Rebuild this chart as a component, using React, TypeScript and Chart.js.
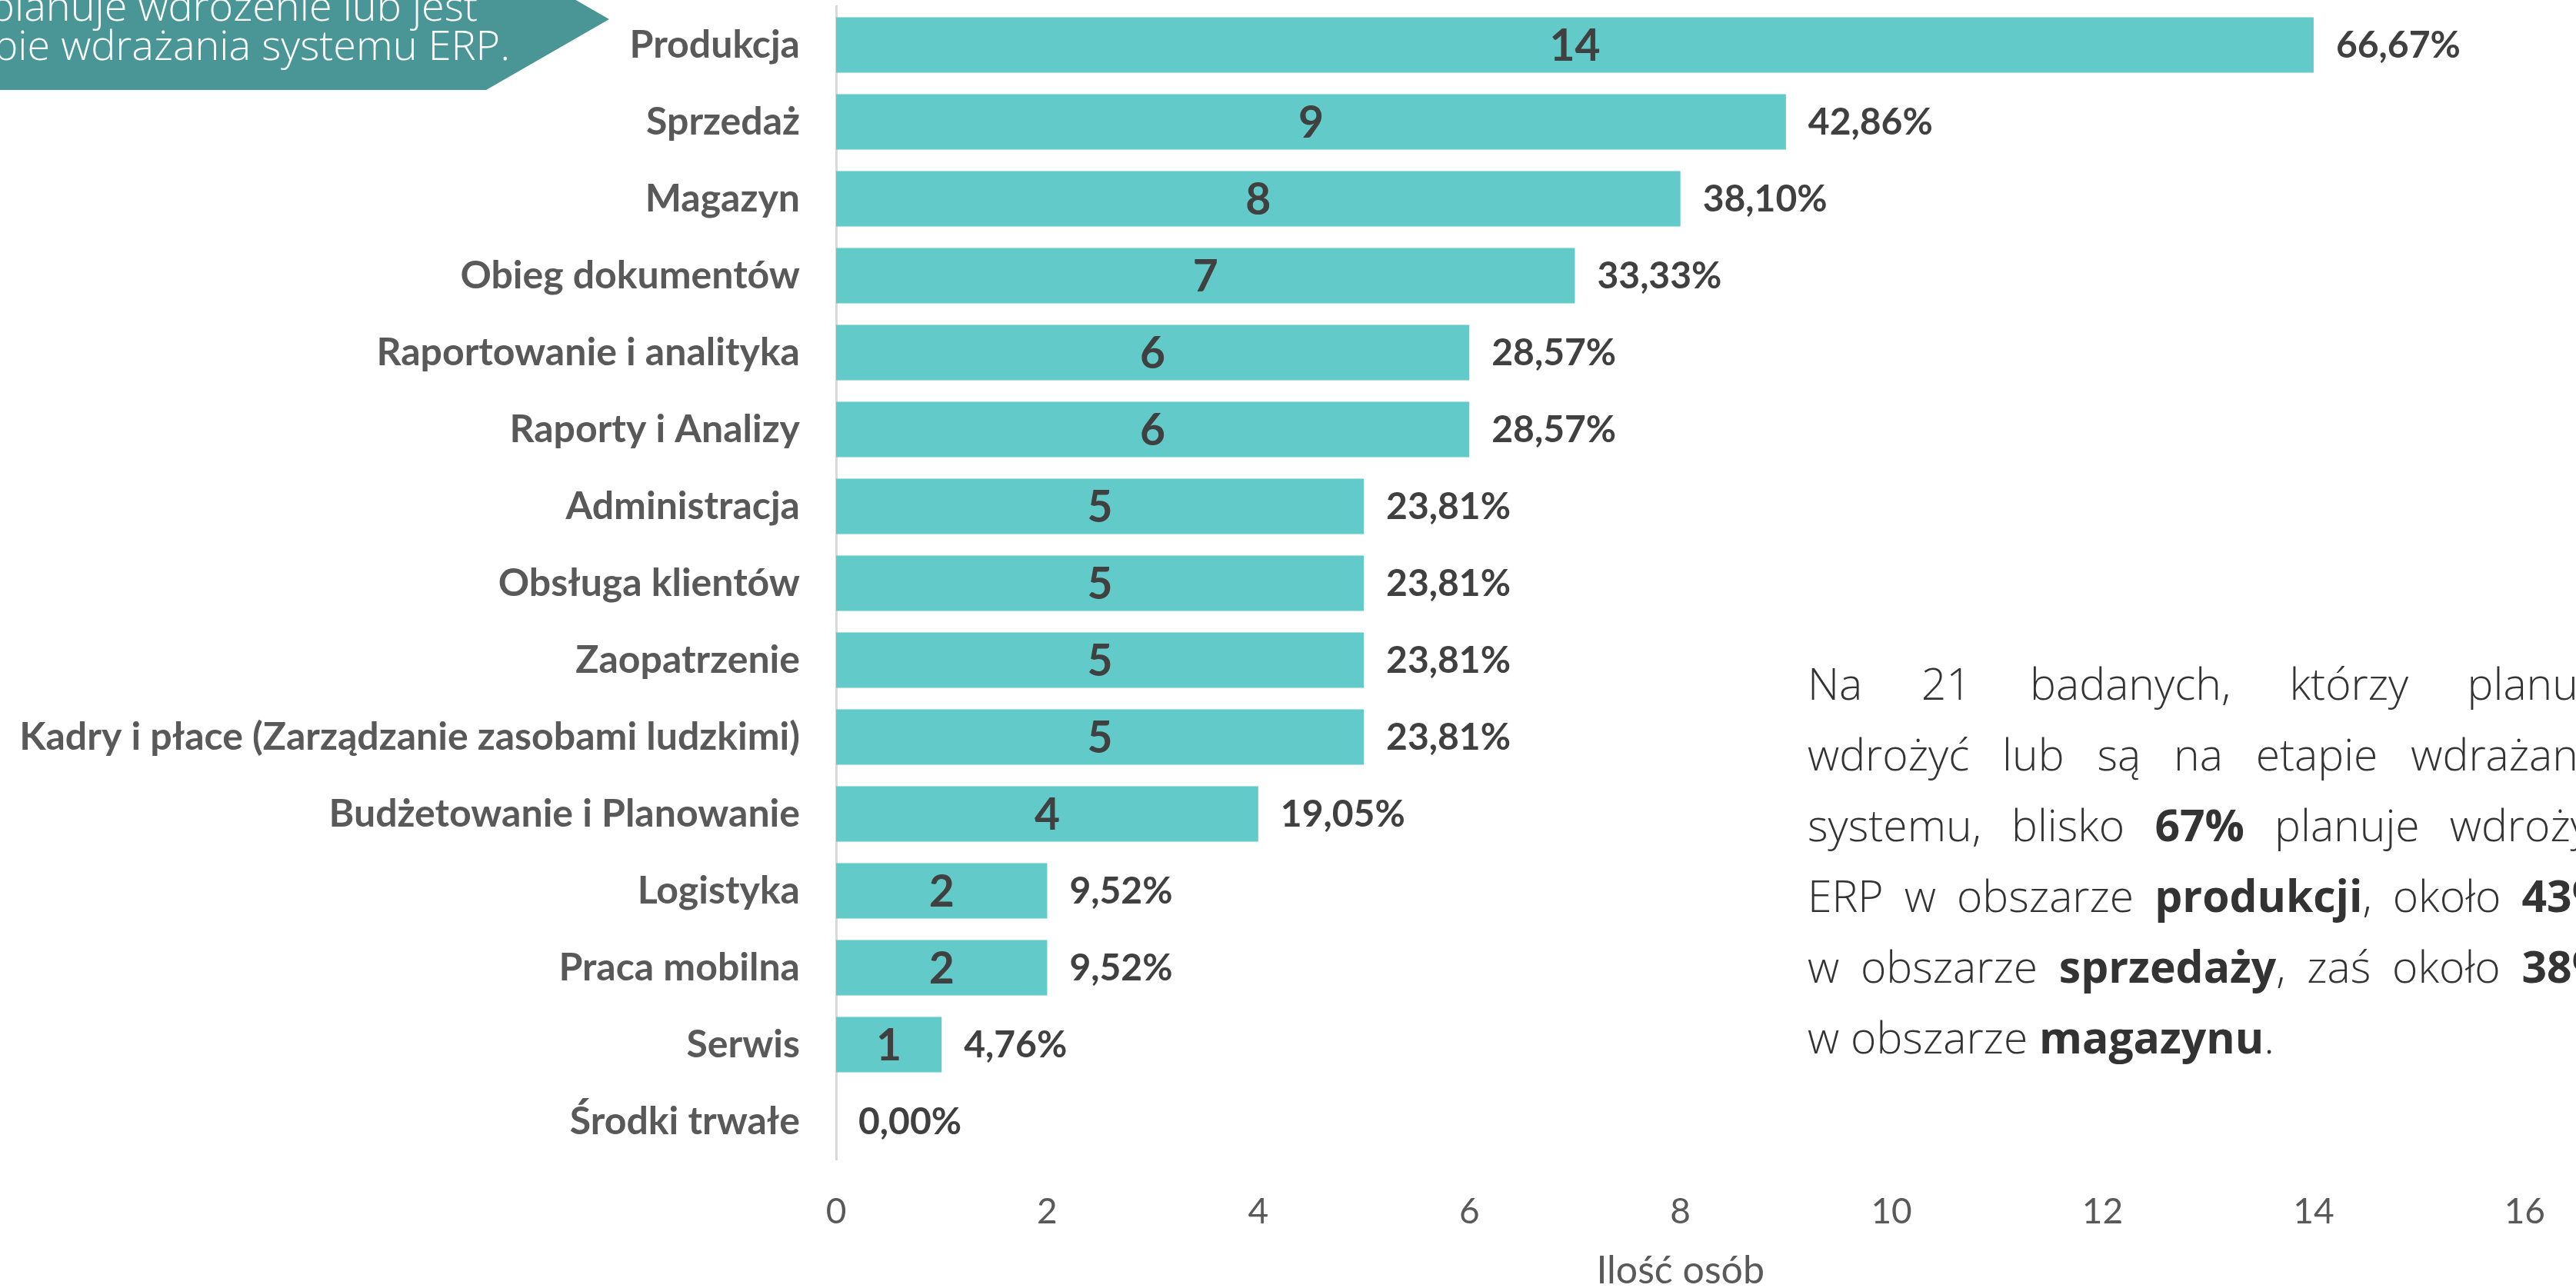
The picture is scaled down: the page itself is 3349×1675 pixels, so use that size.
import React, { useEffect, useRef } from "react";
import { Chart, registerables } from "chart.js";

Chart.register(...registerables);

// ---- data ----
const categories = [
  "Produkcja",
  "Sprzedaż",
  "Magazyn",
  "Obieg dokumentów",
  "Raportowanie i analityka",
  "Raporty i Analizy",
  "Administracja",
  "Obsługa klientów",
  "Zaopatrzenie",
  "Kadry i płace (Zarządzanie zasobami ludzkimi)",
  "Budżetowanie i Planowanie",
  "Logistyka",
  "Praca mobilna",
  "Serwis",
  "Środki trwałe",
];
const counts = [14, 9, 8, 7, 6, 6, 5, 5, 5, 5, 4, 2, 2, 1, 0];
const pctLabels = [
  "66,67%", "42,86%", "38,10%", "33,33%", "28,57%", "28,57%", "23,81%",
  "23,81%", "23,81%", "23,81%", "19,05%", "9,52%", "9,52%", "4,76%", "0,00%",
];
const xMin = 0;
const xMax = 16;
const xStep = 2;
const axisTitle = "Ilość osób";

const bannerLines = ["planuje wdrożenie lub jest", "etapie wdrażania systemu ERP."];

type Seg = { t: string; b?: boolean };
const noteLines: Seg[][] = [
  [{ t: "Na 21 badanych, którzy planują" }],
  [{ t: "wdrożyć lub są na etapie wdrażania" }],
  [{ t: "systemu, blisko " }, { t: "67%", b: true }, { t: " planuje wdrożyć" }],
  [{ t: "ERP w obszarze " }, { t: "produkcji", b: true }, { t: ", około " }, { t: "43%", b: true }],
  [{ t: "w obszarze " }, { t: "sprzedaży", b: true }, { t: ", zaś około " }, { t: "38%", b: true }],
  [{ t: "w obszarze " }, { t: "magazynu", b: true }, { t: "." }],
];

const W = 3349;
const H = 1675;
const CANVAS_H = 1700;
const CHART_FONT = "Lato, 'Open Sans', sans-serif";
const TEXT_FONT = "'Open Sans', 'Noto Sans', sans-serif";

const labelPlugin = {
  id: "barLabels",
  afterDatasetsDraw(chart: any) {
    const ctx = chart.ctx;
    const meta = chart.getDatasetMeta(0);
    meta.data.forEach((bar: any, i: number) => {
      const { x, y, base } = bar.getProps(["x", "y", "base"], true);
      ctx.save();
      ctx.fillStyle = "#404040";
      ctx.textBaseline = "middle";
      if (counts[i] > 0) {
        ctx.font = `700 57px ${CHART_FONT}`;
        ctx.textAlign = "center";
        ctx.fillText(String(counts[i]), (x + base) / 2, y + 2);
      }
      ctx.font = `700 48px ${CHART_FONT}`;
      ctx.textAlign = "left";
      ctx.fillText(pctLabels[i], x + 29, y + 1);
      ctx.restore();
    });
  },
};

function ChartCanvas() {
  const ref = useRef<HTMLCanvasElement | null>(null);
  useEffect(() => {
    if (!ref.current) return;
    const chart = new Chart(ref.current, {
      type: "bar",
      data: {
        labels: categories,
        datasets: [
          {
            data: counts,
            backgroundColor: "#63CACA",
            borderWidth: 0,
            barPercentage: 0.9,
            categoryPercentage: 0.8,
          },
        ],
      },
      options: {
        indexAxis: "y",
        animation: false,
        responsive: false,
        maintainAspectRatio: false,
        layout: { padding: { left: 0, right: 61, top: 8.5, bottom: 0 } },
        plugins: {
          legend: { display: false },
          tooltip: { enabled: false },
          title: { display: false },
        },
        scales: {
          x: {
            type: "linear",
            min: xMin,
            max: xMax,
            ticks: {
              stepSize: xStep,
              color: "#595959",
              padding: 40,
              font: { family: CHART_FONT, size: 46, weight: "400" },
            },
            grid: { display: false, drawTicks: false },
            border: { display: false },
            title: {
              display: true,
              text: axisTitle,
              color: "#595959",
              padding: { top: 0, bottom: 17 },
              font: { family: CHART_FONT, size: 50, weight: "400" },
            },
            afterFit(scale: any) {
              scale.height = CANVAS_H - 1508.5;
            },
          },
          y: {
            type: "category",
            ticks: {
              color: "#595959",
              padding: 47,
              autoSkip: false,
              font: { family: CHART_FONT, size: 50, weight: "700" },
            },
            grid: { display: true, drawOnChartArea: false, drawTicks: false, color: "rgba(0,0,0,0)" },
            border: { display: true, color: "#D9D9D9", width: 3 },
            afterFit(scale: any) {
              scale.width = 1087;
              scale.paddingTop = 0;
              scale.paddingBottom = 0;
            },
          },
        },
      },
      plugins: [labelPlugin],
    });
    return () => chart.destroy();
  }, []);
  return (
    <canvas
      ref={ref}
      width={W}
      height={CANVAS_H}
      style={{ position: "absolute", left: 0, top: 0, width: W, height: CANVAS_H }}
    />
  );
}

export default function App() {
  const bannerRights = [621, 663];
  const bannerBaselines = [27, 78];
  const bannerSize = 54;
  const noteSize = 57;
  const noteLH = 92;
  const noteLeft = 2350;
  const noteWidth = 1045;
  const firstBaseline = 910;
  // Open Sans: ascent 1.069em, descent 0.293em
  const noteTop0 = firstBaseline - ((noteLH - 1.362 * noteSize) / 2 + 1.069 * noteSize);
  return (
    <div
      style={{
        position: "fixed",
        left: 0,
        top: 0,
        width: W,
        height: H,
        overflow: "hidden",
        background: "#ffffff",
      }}
    >
      <ChartCanvas />
      <svg width={800} height={120} style={{ position: "absolute", left: 0, top: 0 }}>
        <polygon points="0,-67 632,-67 792,25 632,117 0,117" fill="#4A9696" />
      </svg>
      {bannerLines.map((line, i) => (
        <div
          key={i}
          style={{
            position: "absolute",
            right: W - bannerRights[i],
            top: bannerBaselines[i] - ((bannerSize - 1.362 * bannerSize) / 2 + 1.069 * bannerSize),
            fontFamily: TEXT_FONT,
            fontWeight: 300,
            fontSize: bannerSize,
            lineHeight: `${bannerSize}px`,
            color: "#ffffff",
            whiteSpace: "nowrap",
          }}
        >
          {line}
        </div>
      ))}
      {noteLines.map((segs, i) => {
        const last = i === noteLines.length - 1;
        return (
          <div
            key={i}
            style={{
              position: "absolute",
              left: noteLeft,
              top: noteTop0 + i * noteLH,
              width: noteWidth,
              fontFamily: TEXT_FONT,
              fontWeight: 300,
              fontSize: noteSize,
              lineHeight: `${noteLH}px`,
              color: "#333333",
              textAlign: last ? "left" : "justify",
              textAlignLast: last ? "left" : "justify",
              whiteSpace: "normal",
            } as any}
          >
            {segs.map((s, j) =>
              s.b ? (
                <b key={j} style={{ fontWeight: 700 }}>{s.t}</b>
              ) : (
                <span key={j}>{s.t}</span>
              )
            )}
          </div>
        );
      })}
    </div>
  );
}
